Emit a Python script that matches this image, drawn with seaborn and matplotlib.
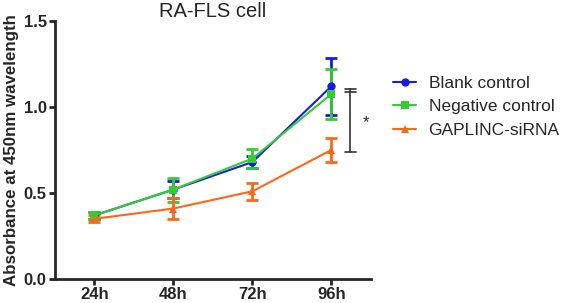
import seaborn as sns
import matplotlib.pyplot as plt
import pandas as pd

# data
times = ['24h', '48h', '72h', '96h']
groups = ['Blank control', 'Negative control', 'GAPLINC-siRNA']
blank_mean = [0.37, 0.52, 0.68, 1.12]
blank_err = [0.02, 0.05, 0.035, 0.165]
neg_mean = [0.37, 0.52, 0.70, 1.075]
neg_err = [0.02, 0.07, 0.055, 0.145]
sirna_mean = [0.35, 0.41, 0.51, 0.75]
sirna_err = [0.02, 0.06, 0.05, 0.07]
colors = ['#1a1ae6', '#33cc33', '#ff6619']
markers = ['o', 's', '^']

# significance bracket
sig_top = [1.105, 1.085]
sig_bottom = 0.74

rows = []
for g, m, e in zip(groups, [blank_mean, neg_mean, sirna_mean], [blank_err, neg_err, sirna_err]):
    for i, t in enumerate(times):
        rows.append({'group': g, 'x': i, 'time': t, 'mean': m[i], 'err': e[i]})
df = pd.DataFrame(rows)

sns.set_style('ticks')
plt.rcParams['font.family'] = ['Liberation Sans', 'DejaVu Sans']

fig = plt.figure(figsize=(5.61, 3.03), dpi=100)
ax = fig.add_axes([0.098, 0.079, 0.563, 0.852])

# error bars first, lines on top
for g, c in zip(groups, colors):
    d = df[df.group == g]
    ax.errorbar(d['x'], d['mean'], yerr=d['err'], fmt='none', ecolor=c,
                elinewidth=2, capsize=4, capthick=2, zorder=2)

sns.lineplot(data=df, x='x', y='mean', hue='group', style='group',
             palette=colors, markers=markers, dashes=False, markersize=6,
             markeredgewidth=0, linewidth=1.5, ax=ax, zorder=3, legend=True)

# bracket and star
bx = 3.24
for yv in sig_top + [sig_bottom]:
    ax.plot([bx - 0.07, bx + 0.07], [yv, yv], color='#333333', lw=1.2, clip_on=False)
ax.plot([bx, bx], [sig_bottom, sig_top[0]], color='#333333', lw=1.2, clip_on=False)
ax.text(bx + 0.2, 0.91, '*', fontsize=12, ha='center', va='center')

ax.set_xlim(-0.5, 3.5)
ax.set_ylim(0, 1.5)
ax.set_xticks(range(len(times)))
ax.set_xticklabels(times, fontweight='bold', fontsize=12)
ax.set_yticks([0.0, 0.5, 1.0, 1.5])
ax.set_yticklabels(['0.0', '0.5', '1.0', '1.5'], fontweight='bold', fontsize=12)
ax.set_xlabel('')
ax.set_ylabel('Absorbance at 450nm wavelength', fontweight='bold', fontsize=12.2, labelpad=3)
ax.set_title('RA-FLS cell', fontsize=14.5, pad=1)

sns.despine(ax=ax)
for s in ['left', 'bottom']:
    ax.spines[s].set_linewidth(2)
ax.tick_params(width=2, length=4, pad=2)

h, l = ax.get_legend_handles_labels()
ax.legend(h, l, loc='upper left', bbox_to_anchor=(393 / 561, 1 - 76 / 303),
          bbox_transform=fig.transFigure, frameon=False, borderpad=0,
          borderaxespad=0, fontsize=12.5, handlelength=1.35, handletextpad=0.7,
          labelspacing=0.47)

fig.savefig('out.png', dpi=100)
